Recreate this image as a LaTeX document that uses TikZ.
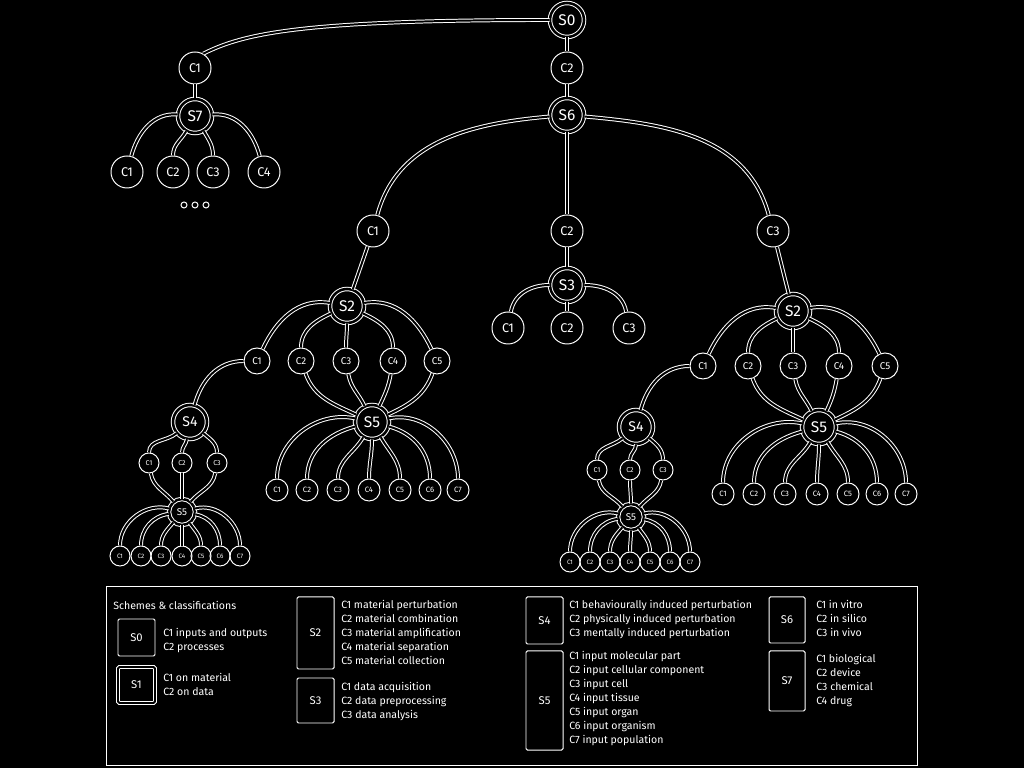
\documentclass[tikz,border=0pt]{standalone}
\usepackage{fontspec}
\setmainfont{Fira Sans}
\usepackage{tikz}
\usetikzlibrary{positioning}
\tikzset{
  snode/.style={circle,draw=white,double=black,double distance=1.8pt,line width=0.7pt,text=white,inner sep=0pt,minimum size=#1},
  snode/.default=0.85cm,
  cnode/.style={circle,draw=white,line width=0.7pt,text=white,inner sep=0pt,minimum size=#1},
  cnode/.default=0.8cm,
  link/.style={draw=white,double=black,double distance=1.4pt,line width=0.7pt},
  legbox/.style={draw=white,line width=0.7pt,rounded corners=1pt,text=white,font=\fontsize{8}{10}\selectfont},
  legtxt/.style={anchor=north west,align=left,text=white,inner sep=0pt,font=\fontsize{7.5}{9.96}\selectfont},
}
\begin{document}
\begin{tikzpicture}[x=0.025cm,y=0.025cm]
  \fill[black] (0,0) rectangle (1024,768);
  \useasboundingbox (0,0) rectangle (1024,768);
  % top of the tree
  \node[snode,font=\fontsize{11}{11}\selectfont] (s0) at (567,748) {S0};
  \node[cnode,font=\fontsize{9}{9}\selectfont] (s0c1) at (195,700) {C1};
  \node[cnode,font=\fontsize{9}{9}\selectfont] (s0c2) at (567,700) {C2};
  \node[snode,font=\fontsize{11}{11}\selectfont] (s7) at (195,652) {S7};
  \node[snode,font=\fontsize{11}{11}\selectfont] (s6) at (567,653) {S6};
  \draw[link] (s0.west) .. controls +(-250,0) and +(40,20) .. (s0c1.60);
  \draw[link] (s0) -- (s0c2);
  \draw[link] (s0c2) -- (s6);
  \draw[link] (s0c1) -- (s7);
  % S7 branch
  \foreach \i/\x/\o/\n in {1/127/175/75, 2/173/240/90, 3/213/-60/90, 4/264/5/105} {
    \node[cnode,font=\fontsize{9}{9}\selectfont] (s7c\i) at (\x,596) {C\i};
    \draw[link] (s7) to[out=\o,in=\n] (s7c\i);
  }
  \foreach \x in {184,195,206} \draw[white,line width=0.7pt] (\x,563) circle (3);
  % S6 branch
  \foreach \i/\x in {1/373,2/567,3/773}
    \node[cnode,font=\fontsize{9}{9}\selectfont] (s6c\i) at (\x,537) {C\i};
  \draw[link] (s6) to[out=185,in=75] (s6c1);
  \draw[link] (s6) -- (s6c2);
  \draw[link] (s6) to[out=-5,in=105] (s6c3);
  \node[snode,font=\fontsize{11}{11}\selectfont] (s2a) at (347,462) {S2};
  \node[snode,font=\fontsize{11}{11}\selectfont] (s3) at (567,483) {S3};
  \node[snode,font=\fontsize{11}{11}\selectfont] (s2b) at (793,457) {S2};
  \draw[link] (s6c1) -- (s2a);
  \draw[link] (s6c2) -- (s3);
  \draw[link] (s6c3) -- (s2b);
  % S3 branch
  \foreach \i/\x/\o/\n in {1/508/180/80, 2/567/270/90, 3/629/0/100} {
    \node[cnode,font=\fontsize{9}{9}\selectfont] (s3c\i) at (\x,440) {C\i};
    \draw[link] (s3) to[out=\o,in=\n] (s3c\i);
  }
  % left S2 branch
  \foreach \i/\x/\o/\n in {1/257/170/65, 2/301/205/90, 3/346/270/90, 4/393/-25/90, 5/437/10/115} {
    \node[cnode=0.65cm,font=\fontsize{7}{7}\selectfont] (s2ac\i) at (\x,407) {C\i};
    \draw[link] (s2a) to[out=\o,in=\n] (s2ac\i);
  }
  \node[snode,font=\fontsize{11}{11}\selectfont] (s5a) at (372,346) {S5};
  \foreach \i/\o/\n in {2/-70/155, 3/-80/115, 4/-100/65, 5/-110/25}
    \draw[link] (s2ac\i) to[out=\o,in=\n] (s5a);
  \foreach \i/\x/\o in {1/277/168, 2/307/195, 3/338/240, 4/369/270, 5/400/300, 6/430/345, 7/458/12} {
    \node[cnode=0.55cm,font=\fontsize{5.5}{5.5}\selectfont] (s5ac\i) at (\x,278) {C\i};
    \draw[link] (s5a) to[out=\o,in=90] (s5ac\i);
  }
  \node[snode,font=\fontsize{10}{10}\selectfont] (s4a) at (190,346) {S4};
  \draw[link] (s2ac1) to[out=180,in=75] (s4a);
  \node[snode=0.65cm,font=\fontsize{7}{7}\selectfont] (s5b) at (182,256) {S5};
  \foreach \i/\x/\o/\n/\m in {1/149/220/-80/130, 2/182/260/-90/90, 3/217/-40/-100/50} {
    \node[cnode=0.5cm,font=\fontsize{5}{5}\selectfont] (s4ac\i) at (\x,305) {C\i};
    \draw[link] (s4a) to[out=\o,in=90] (s4ac\i);
    \draw[link] (s4ac\i) to[out=\n,in=\m] (s5b);
  }
  \foreach \i/\x/\o in {1/120/165, 2/141/188, 3/161/230, 4/182/270, 5/201/305, 6/220/350, 7/240/15} {
    \node[cnode=0.5cm,font=\fontsize{4.5}{4.5}\selectfont] (s5bc\i) at (\x,212) {C\i};
    \draw[link] (s5b) to[out=\o,in=90] (s5bc\i);
  }
  % right S2 branch
  \foreach \i/\x/\o/\n in {1/703/170/65, 2/748/205/90, 3/793/270/90, 4/839/-25/90, 5/885/10/115} {
    \node[cnode=0.65cm,font=\fontsize{7}{7}\selectfont] (s2bc\i) at (\x,402) {C\i};
    \draw[link] (s2b) to[out=\o,in=\n] (s2bc\i);
  }
  \node[snode,font=\fontsize{11}{11}\selectfont] (s5c) at (819,341) {S5};
  \foreach \i/\o/\n in {2/-70/155, 3/-80/115, 4/-100/65, 5/-110/25}
    \draw[link] (s2bc\i) to[out=\o,in=\n] (s5c);
  \foreach \i/\x/\o in {1/723/168, 2/754/195, 3/785/240, 4/817/270, 5/848/300, 6/877/345, 7/906/12} {
    \node[cnode=0.55cm,font=\fontsize{5.5}{5.5}\selectfont] (s5cc\i) at (\x,274) {C\i};
    \draw[link] (s5c) to[out=\o,in=90] (s5cc\i);
  }
  \node[snode,font=\fontsize{10}{10}\selectfont] (s4b) at (636,341) {S4};
  \draw[link] (s2bc1) to[out=180,in=75] (s4b);
  \node[snode=0.65cm,font=\fontsize{7}{7}\selectfont] (s5d) at (631,251) {S5};
  \foreach \i/\x/\o/\n/\m in {1/597/220/-80/130, 2/630/270/-90/90, 3/663/-40/-100/50} {
    \node[cnode=0.5cm,font=\fontsize{5}{5}\selectfont] (s4bc\i) at (\x,298) {C\i};
    \draw[link] (s4b) to[out=\o,in=90] (s4bc\i);
    \draw[link] (s4bc\i) to[out=\n,in=\m] (s5d);
  }
  \foreach \i/\x/\o in {1/570/165, 2/590/188, 3/610/230, 4/630/270, 5/650/305, 6/670/350, 7/690/15} {
    \node[cnode=0.5cm,font=\fontsize{4.5}{4.5}\selectfont] (s5dc\i) at (\x,206) {C\i};
    \draw[link] (s5d) to[out=\o,in=90] (s5dc\i);
  }
  % legend
  \draw[white,line width=0.7pt] (106,182) rectangle (917,3);
  \node[legtxt,anchor=west] (legtitle) at (113,163) {Schemes \& classifications};
  \node[legbox,minimum width=0.925cm,minimum height=0.925cm] (l0) at (136.5,130.5) {S0};
  \node[legtxt] (t0) at (163,140) {C1 inputs and outputs\\C2 processes};
  \node[legbox,double=black,double distance=1.4pt,minimum width=0.925cm,minimum height=0.9cm] (l1) at (136.5,83) {S1};
  \node[legtxt] (t1) at (163,95) {C1 on material\\C2 on data};
  \node[legbox,minimum width=0.925cm,minimum height=1.8cm] (l2) at (315.5,135) {S2};
  \node[legtxt] (t2) at (341,168) {C1 material perturbation\\C2 material combination\\C3 material amplification\\C4 material separation\\C5 material collection};
  \node[legbox,minimum width=0.925cm,minimum height=1.125cm] (l3) at (315.5,67.5) {S3};
  \node[legtxt] (t3) at (341,86) {C1 data acquisition\\C2 data preprocessing\\C3 data analysis};
  \node[legbox,minimum width=0.925cm,minimum height=1.175cm] (l4) at (544.5,147.5) {S4};
  \node[legtxt] (t4) at (569,168) {C1 behaviourally induced perturbation\\C2 physically induced perturbation\\C3 mentally induced perturbation};
  \node[legbox,minimum width=0.925cm,minimum height=2.475cm] (l5) at (544.5,67.5) {S5};
  \node[legtxt] (t5) at (569,117) {C1 input molecular part\\C2 input cellular component\\C3 input cell\\C4 input tissue\\C5 input organ\\C6 input organism\\C7 input population};
  \node[legbox,minimum width=0.9cm,minimum height=1.15cm] (l6) at (787,148) {S6};
  \node[legtxt] (t6) at (816,168) {C1 in vitro\\C2 in silico\\C3 in vivo};
  \node[legbox,minimum width=0.9cm,minimum height=1.5cm] (l7) at (787,87) {S7};
  \node[legtxt] (t7) at (816,114) {C1 biological\\C2 device\\C3 chemical\\C4 drug};
\end{tikzpicture}
\end{document}
